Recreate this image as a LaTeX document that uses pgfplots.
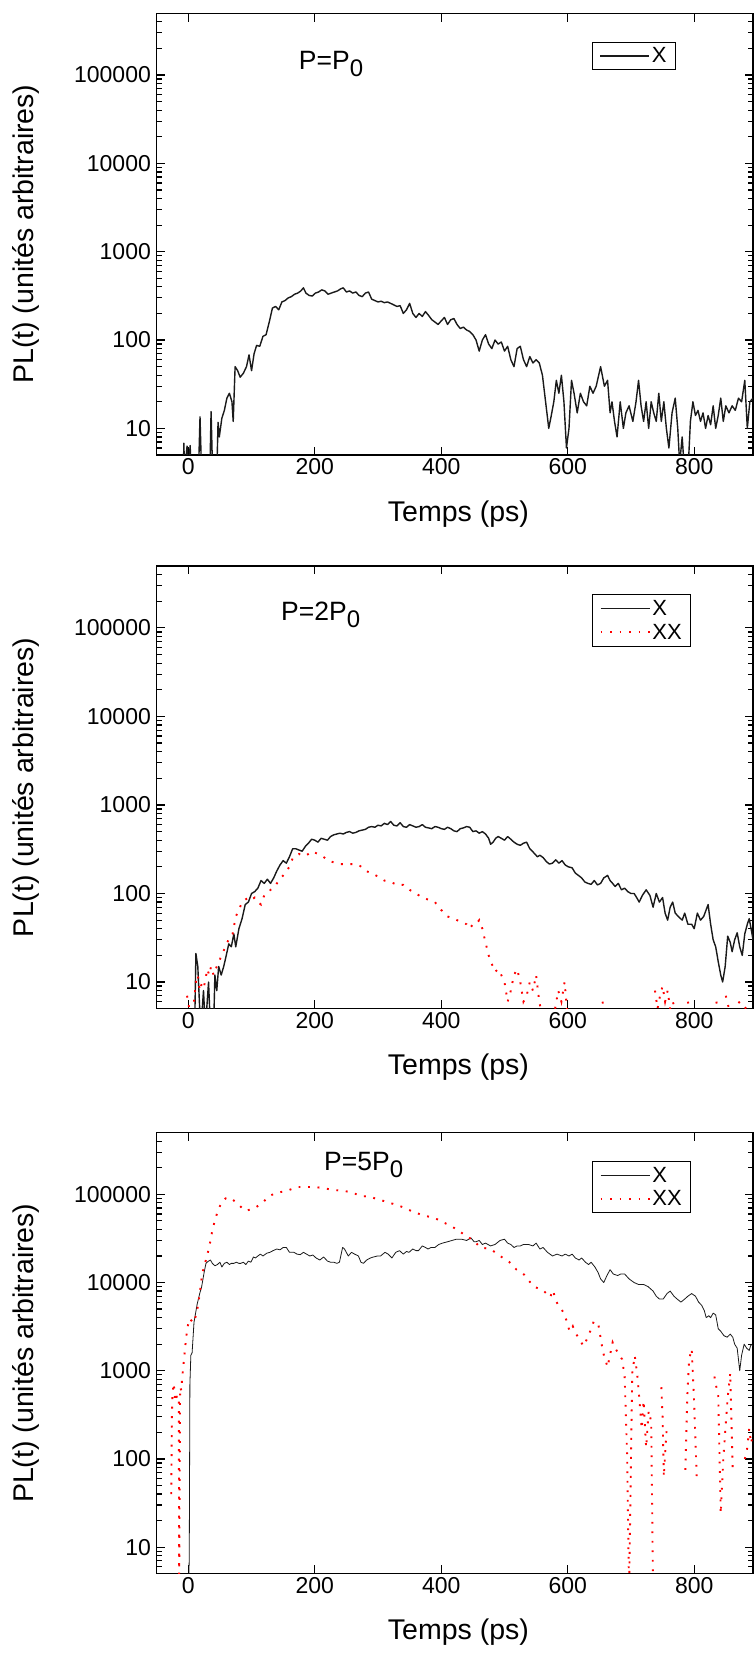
\documentclass[border=0pt]{standalone}
\usepackage{fontspec}
\setmainfont{Liberation Sans}
\usepackage{pgfplots}
\pgfplotsset{compat=1.18}
\definecolor{xline}{HTML}{1A1A1A}
\begin{document}
\begin{tikzpicture}
\useasboundingbox (0pt,0pt) rectangle (754pt,1653pt);
% ---------------- Panel 1 ----------------
\begin{axis}[at={(156.7pt,1198pt)}, anchor=south west, width=596.3pt, height=441.7pt, scale only axis,
    xmin=-50, xmax=893, ymode=log, ymin=5, ymax=5e5,
    xtick={0,200,400,600,800}, xticklabels={0,200,400,600,800},
    ytick={10,100,1000,10000,100000}, yticklabels={10,100,1000,10000,100000},
    minor ytick={6,7,8,9,20,30,40,50,60,70,80,90,200,300,400,500,600,700,800,900,2000,3000,4000,5000,6000,7000,8000,9000,20000,30000,40000,50000,60000,70000,80000,90000,200000,300000,400000},
    tick align=inside, major tick length=8.5pt, minor tick length=5pt,
    every tick/.style={black, line width=1.2pt},
    axis line style={line width=1.5pt},
    tick label style={font=\fontsize{23}{24}\selectfont},
    yticklabel style={xshift=-2.3pt},
    label style={font=\fontsize{28.5}{30}\selectfont},
    xlabel={Temps (ps)}, ylabel={PL(t) (unités arbitraires)},
    xlabel style={at={(axis description cs:0.506,-0.133)}, anchor=center},
    ylabel style={at={(axis description cs:-0.22,0.5)}, anchor=center},
    unbounded coords=jump,
    legend cell align=left,
    legend style={at={(axis description cs:0.7301,0.936)}, anchor=north west, draw=black, line width=1pt,
      font=\fontsize{22}{23}\selectfont, inner xsep=7pt, inner ysep=3.5pt, row sep=3pt},
    legend image code/.code={\draw[#1] (0pt,0pt) -- (49pt,0pt);}]
\addplot[xline, line width=1.4pt, line join=round] coordinates {
(-8,3)(-7,6.8)(-6,3)(-2,6.3)(-1,3)(3,6.4)(4,3)(16,3)(18.5,13.5)(21,3)(34,3)(36,15.5)(38.5,3)(45,3)(47,11.7)(49,8)(53,13)(57,16)(61,22)(65,25)(69,20)(71,12)
(74,50)(78,45)(82,38)(87,42)(92,50)(96,68)(100,45)(104,70)(108,87)(113,85)(118,110)(123,115)(128,160)(133,230)(138,240)(143,220)(148,270)(153,280)(158,300)(163,310)(168,330)(173,340)(178,360)(182,390)(186,340)(191,320)(196,315)(201,340)(206,350)(211,370)(216,360)(221,330)(226,340)(231,350)(236,360)(241,380)(245,390)(250,350)(255,360)(260,340)(265,350)(270,320)(275,310)(280,340)(285,350)(290,290)(295,280)(300,270)(305,275)(310,265)(315,270)(320,260)(325,250)(330,240)(335,245)(340,200)(345,220)(350,260)(355,200)(360,180)(365,200)(370,185)(375,210)(380,190)(385,170)(390,160)(395,150)(400,165)(405,180)(410,150)(415,170)(420,175)(425,150)(430,135)(435,140)(440,130)(445,125)(450,115)(455,100)(460,75)(465,100)(470,115)(475,90)(480,80)(485,100)(490,90)(495,95)(500,75)(505,85)(510,60)(515,50)(520,80)(525,85)(530,60)(535,50)(540,65)(545,55)(550,60)(555,55)(560,40)(565,20)(570,10)(574,14)(578,20)(582,35)(586,25)(590,40)(594,20)(598,6)(602,10)(606,35)(610,25)(615,15)(620,25)(625,20)(630,18)(635,30)(640,25)(645,30)(652,50)(658,30)(663,35)(667,15)(670,20)(674,12)(678,8)(683,20)(688,10)(692,15)(697,18)(703,12)(708,20)(712,35)(716,18)(720,12)(724,20)(728,10)(732,20)(736,15)(740,12)(744,25)(748,12)(752,20)(756,10)(760,6)(765,15)(770,22)(774,10)(777,4)(781,8)(785,3)(790,3)(794,12)(798,20)(802,14)(806,16)(810,12)(814,15)(818,10)(822,14)(826,11)(830,18)(834,10)(838,14)(842,22)(846,12)(850,18)(855,15)(860,18)(865,16)(870,22)(875,20)(880,35)(884,10)(888,20)(893,22)
};
\addlegendentry{X}
\node[anchor=base west, inner sep=0pt, font=\fontsize{26.5}{28}\selectfont] at (axis description cs:0.2383,0.8725) {P=P\raisebox{-7pt}{\fontsize{24}{25}\selectfont 0}};
\end{axis}
% ---------------- Panel 2 ----------------
\begin{axis}[at={(156.7pt,644.3pt)}, anchor=south west, width=596.3pt, height=442.7pt, scale only axis,
    xmin=-50, xmax=893, ymode=log, ymin=5, ymax=5e5,
    xtick={0,200,400,600,800}, xticklabels={0,200,400,600,800},
    ytick={10,100,1000,10000,100000}, yticklabels={10,100,1000,10000,100000},
    minor ytick={6,7,8,9,20,30,40,50,60,70,80,90,200,300,400,500,600,700,800,900,2000,3000,4000,5000,6000,7000,8000,9000,20000,30000,40000,50000,60000,70000,80000,90000,200000,300000,400000},
    tick align=inside, major tick length=8.5pt, minor tick length=5pt,
    every tick/.style={black, line width=1.2pt},
    axis line style={line width=1.5pt},
    tick label style={font=\fontsize{23}{24}\selectfont},
    yticklabel style={xshift=-2.3pt},
    label style={font=\fontsize{28.5}{30}\selectfont},
    xlabel={Temps (ps)}, ylabel={PL(t) (unités arbitraires)},
    xlabel style={at={(axis description cs:0.506,-0.133)}, anchor=center},
    ylabel style={at={(axis description cs:-0.22,0.5)}, anchor=center},
    unbounded coords=jump,
    legend cell align=left,
    legend style={at={(axis description cs:0.7301,0.936)}, anchor=north west, draw=black, line width=1pt,
      font=\fontsize{22}{23}\selectfont, inner xsep=7pt, inner ysep=3.5pt, row sep=3pt},
    legend image code/.code={\draw[#1] (0pt,0pt) -- (49pt,0pt);}]
\addplot[xline, line width=1.4pt, line join=round] coordinates {
(5,3)(10,3)(12,21)(15,15)(18,5)(20,3)(24,8)(27,3)(32,10)(35,3)(40,3)(42,12)(45,8)(48,15)(52,12)(56,15)(60,20)(64,27)(68,25)(72,35)(75,25)(80,40)(85,52)(90,75)(95,80)(100,100)(105,105)(110,115)(115,140)(120,130)(125,145)(130,130)(135,150)(140,180)(145,210)(150,235)(155,220)(160,260)(165,320)(170,320)(175,310)(180,300)(185,340)(190,370)(195,410)(200,400)(205,380)(210,420)(215,410)(220,400)(225,440)(230,460)(235,470)(240,480)(245,470)(250,490)(255,500)(260,480)(265,490)(270,510)(275,520)(280,530)(285,560)(290,570)(295,560)(300,590)(305,580)(310,620)(315,600)(320,650)(325,590)(330,580)(335,630)(340,570)(345,560)(350,600)(355,580)(360,560)(365,570)(370,600)(375,560)(380,550)(385,540)(390,570)(395,560)(400,540)(405,530)(410,560)(415,540)(420,510)(425,500)(430,540)(435,550)(440,570)(445,560)(450,500)(455,510)(460,480)(465,500)(470,470)(475,420)(478,360)(482,380)(486,420)(490,440)(495,420)(500,400)(505,440)(510,410)(515,380)(520,360)(525,350)(530,370)(535,380)(540,320)(546,290)(552,260)(556,270)(561,255)(566,230)(571,215)(576,220)(581,240)(586,220)(591,235)(596,210)(601,200)(607,195)(612,170)(617,160)(622,150)(627,135)(632,130)(637,127)(642,140)(647,125)(652,130)(657,150)(663,160)(667,140)(671,130)(675,120)(680,130)(685,110)(690,115)(695,105)(700,100)(705,100)(709,90)(713,80)(718,95)(724,110)(730,95)(735,70)(740,100)(745,80)(750,90)(754,60)(758,50)(762,70)(766,80)(770,60)(775,55)(781,50)(785,60)(790,45)(796,45)(800,40)(805,60)(810,50)(815,55)(822,75)(826,45)(830,30)(834,25)(838,17)(842,12)(845,10)(849,15)(853,33)(857,28)(860,22)(864,30)(868,36)(872,25)(876,20)(880,35)(884,45)(887,52)(890,40)(893,30)
};
\addlegendentry{X}
\addplot[red, line width=1.9pt, dash pattern=on 1.9pt off 7.6pt] coordinates {
(-2,7)(0,6)(3,4)(8,5)(12,10)(15,12)(18,8)(22,10)(25,9)(30,14)(33,12)(36,15)(40,12)(45,15)(50,18)(55,22)(60,26)(65,32)(70,35)(75,55)(80,65)(85,80)(90,85)(95,90)(100,85)(105,90)(110,80)(115,75)(120,95)(125,100)(130,110)(135,115)(140,130)(145,145)(150,160)(155,180)(160,200)(165,250)(170,270)(175,280)(180,270)(185,265)(190,280)(195,300)(200,290)(205,280)(210,270)(215,255)(220,240)(225,230)(230,225)(240,215)(250,215)(260,215)(270,210)(280,180)(290,170)(300,155)(310,140)(320,135)(330,125)(340,125)(350,110)(360,100)(370,90)(380,85)(390,80)(400,65)(410,55)(420,52)(430,48)(440,45)(445,40)(450,45)(455,45)(460,50)(465,40)(470,28)(475,20)(480,16)(485,13)(490,14)(495,12)(500,10)(505,6)(510,8)(515,12)(520,14)(525,10)(530,6)(535,7)(540,10)(545,8)(550,12)(555,6)(560,4)(570,nan)(580,5)(585,8)(590,6)(595,10)(600,4)(610,nan)(620,5.5)(625,nan)(655,6)(660,4)(665,nan)(738,8)(742,5)(746,7)(750,9)(754,6)(758,8)(762,5)(766,6)(770,5)(775,4)(780,nan)(790,6)(795,4)(800,nan)(835,6)(840,4)(845,nan)(850,7)(855,5)(860,nan)(870,6)(880,5)(890,6)
};
\addlegendentry{XX}
\node[anchor=base west, inner sep=0pt, font=\fontsize{26.5}{28}\selectfont] at (axis description cs:0.2085,0.8758) {P=2P\raisebox{-7pt}{\fontsize{24}{25}\selectfont 0}};
\end{axis}
% ---------------- Panel 3 ----------------
\begin{axis}[at={(156.7pt,79.3pt)}, anchor=south west, width=596.3pt, height=441pt, scale only axis,
    xmin=-50, xmax=893, ymode=log, ymin=5, ymax=5e5,
    xtick={0,200,400,600,800}, xticklabels={0,200,400,600,800},
    ytick={10,100,1000,10000,100000}, yticklabels={10,100,1000,10000,100000},
    minor ytick={6,7,8,9,20,30,40,50,60,70,80,90,200,300,400,500,600,700,800,900,2000,3000,4000,5000,6000,7000,8000,9000,20000,30000,40000,50000,60000,70000,80000,90000,200000,300000,400000},
    tick align=inside, major tick length=8.5pt, minor tick length=5pt,
    every tick/.style={black, line width=1.2pt},
    axis line style={line width=1.5pt},
    tick label style={font=\fontsize{23}{24}\selectfont},
    yticklabel style={xshift=-2.3pt},
    label style={font=\fontsize{28.5}{30}\selectfont},
    xlabel={Temps (ps)}, ylabel={PL(t) (unités arbitraires)},
    xlabel style={at={(axis description cs:0.506,-0.133)}, anchor=center},
    ylabel style={at={(axis description cs:-0.22,0.5)}, anchor=center},
    unbounded coords=jump,
    legend cell align=left,
    legend style={at={(axis description cs:0.7301,0.936)}, anchor=north west, draw=black, line width=1pt,
      font=\fontsize{22}{23}\selectfont, inner xsep=7pt, inner ysep=3.5pt, row sep=3pt},
    legend image code/.code={\draw[#1] (0pt,0pt) -- (49pt,0pt);}]
\addplot[xline, line width=0.8pt, line join=round] coordinates {
(0.5,3)(1.5,8)(2.5,700)(4,1500)(6,1600)(9,3550)(14,5700)(18,7500)(21,8900)(25,13000)(28,16600)(32,17500)(35,18000)(38,16500)(42,15500)(46,16000)(50,17000)(53,15000)(57,16500)(61,17000)(65,16000)(68,16500)(72,16500)(76,17000)(80,16500)(83,16500)(87,17000)(91,16000)(95,17500)(99,17000)(103,19500)(106,19000)(110,20000)(114,21000)(118,20000)(124,21500)(129,22000)(134,23000)(140,24000)(145,23500)(150,25000)(155,25000)(160,22000)(167,22000)(172,21000)(177,20700)(182,22000)(187,21000)(192,20000)(197,20500)(202,19000)(208,18000)(214,19500)(220,17500)(225,17000)(230,17000)(235,16500)(239,17000)(244,25000)(247,24000)(253,20000)(258,22000)(263,21000)(269,20000)(273,17000)(277,16500)(282,18000)(288,19000)(293,19500)(299,20000)(304,20000)(311,22000)(316,21000)(322,19000)(328,22000)(334,23000)(340,21000)(345,22500)(349,22000)(355,24000)(360,23000)(364,23000)(370,26000)(375,25000)(379,24000)(384,25000)(390,25000)(396,27000)(402,28000)(410,29000)(417,30000)(424,31000)(432,31000)(440,30000)(447,32000)(452,29000)(455,29000)(460,30000)(465,27000)(470,28000)(478,26000)(485,27000)(493,30000)(500,31000)(505,28000)(510,27000)(515,25000)(520,26000)(525,26000)(530,27000)(538,27000)(545,26000)(550,28000)(556,24000)(561,25000)(568,22000)(576,20000)(583,21000)(591,20000)(596,21000)(602,20000)(607,21000)(612,19000)(618,18000)(622,19000)(628,17000)(633,16000)(637,17000)(643,15000)(648,13000)(652,11000)(657,10000)(662,12000)(667,14000)(672,12500)(679,12000)(684,12500)(690,12500)(697,11000)(705,10000)(712,9500)(720,9500)(727,9000)(735,8000)(740,7000)(745,6500)(751,6500)(757,7500)(762,8000)(768,7000)(773,6500)(779,6000)(785,6500)(790,7000)(796,7500)(802,7000)(807,6000)(812,5500)(816,4800)(819,4000)(823,4200)(826,4000)(830,4500)(834,4300)(838,3000)(842,2800)(847,2500)(852,2400)(857,2600)(861,2400)(864,2000)(868,1800)(872,1000)(875,1500)(879,2000)(883,1800)(887,1700)(890,2000)(893,1900)
};
\addlegendentry{X}
\addplot[red, line width=1.9pt, dash pattern=on 1.9pt off 7.6pt] coordinates {
(-27,40)(-26,300)(-25,550)(-23,720)(-21,460)(-19,520)(-17,480)(-15,500)(-14.5,3)(-13,650)(-11,600)(-10,780)(-8,1100)(-5,1850)(-2,2900)(1.5,3900)(5,3700)(9,3500)(14,4800)(18,7400)(22,12700)(26,16000)(29,19500)(33,25000)(38,39000)(42,51000)(47,66000)(53,82000)(59,90000)(66,92000)(72,85000)(79,77000)(85,70000)(90,65000)(97,67000)(104,69000)(117,80000)(129,97000)(143,105000)(158,111000)(172,121000)(186,121000)(201,121000)(215,117000)(230,112000)(244,110000)(259,105000)(272,96000)(286,94000)(300,88000)(314,82000)(329,76000)(343,70000)(356,63000)(371,58000)(384,55000)(394,52000)(409,46000)(425,40000)(436,35000)(451,30000)(462,25000)(478,24000)(493,20000)(508,17000)(519,14000)(531,12300)(546,9000)(561,8200)(572,6800)(577,8200)(580,6500)(584,5700)(590,5000)(595,4350)(599,3500)(603,2800)(608,3200)(612,2700)(618,2300)(625,1900)(633,2500)(641,3600)(648,3500)(656,1600)(663,1100)(671,2100)(679,1600)(686,1350)(690,860)(694,107)(697,3)(702,940)(706,1480)(710,900)(713,500)(717,220)(720,456)(724,135)(728,350)(732,265)(735,3)(738,nan)(748,650)(750,300)(752,63)(755,150)(757,242)(760,nan)(786,75)(789,500)(792,1350)(796,1770)(798,900)(800,417)(804,63)(806,nan)(832,860)(834,700)(838,546)(842,24)(846,100)(849,202)(853,500)(857,940)(861,75)(863,nan)(880,100)(883,118)(887,220)(890,150)(893,200)
};
\addlegendentry{XX}
\node[anchor=base west, inner sep=0pt, font=\fontsize{26.5}{28}\selectfont] at (axis description cs:0.2806,0.9132) {P=5P\raisebox{-7pt}{\fontsize{24}{25}\selectfont 0}};
\end{axis}
\end{tikzpicture}
\end{document}
